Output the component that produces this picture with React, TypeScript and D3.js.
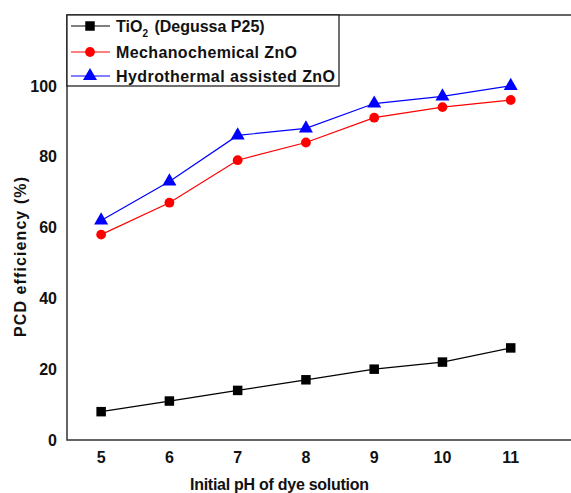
import { useEffect, useRef } from "react";
import * as d3 from "d3";

// pH values and PCD efficiencies (%)
const phValues = [5, 6, 7, 8, 9, 10, 11];
const tio2 = [8, 11, 14, 17, 20, 22, 26];
const mechanoZnO = [58, 67, 79, 84, 91, 94, 96];
const hydroZnO = [62, 73, 86, 88, 95, 97, 100];
const yTicks = [0, 20, 40, 60, 80, 100];

const series = [
  { name: "TiO", sub: "2", rest: " (Degussa P25)", values: tio2, color: "#000000", symbol: d3.symbolSquare, size: 90, len: 152 },
  { name: "Mechanochemical ZnO", sub: "", rest: "", values: mechanoZnO, color: "#ff0000", symbol: d3.symbolCircle, size: 75, len: 181 },
  { name: "Hydrothermal assisted ZnO", sub: "", rest: "", values: hydroZnO, color: "#0000ff", symbol: d3.symbolTriangle, size: 85, len: 219 },
];

const App = () => {
  const ref = useRef<SVGSVGElement>(null);

  useEffect(() => {
    if (!ref.current) return;
    const svg = d3.select(ref.current);
    svg.selectAll("*").remove();

    const width = 571;
    const margin = { top: 15, left: 67, bottom: 440 };
    const font = "'Liberation Sans', Arial, sans-serif";

    const x = d3.scaleLinear().domain([4.5, 12]).range([margin.left, 579]);
    const y = d3.scaleLinear().domain([0, 120]).range([margin.bottom, margin.top]);

    // frame: left, bottom, top (right side is cropped)
    svg.append("path")
      .attr("d", `M${width},${y(120)}H${x(4.5)}V${y(0)}H${width}`)
      .attr("fill", "none")
      .attr("stroke", "#333")
      .attr("stroke-width", 1.5);

    // tick labels
    svg.append("g").selectAll("text")
      .data(yTicks)
      .enter().append("text")
      .attr("x", 57)
      .attr("y", d => y(d))
      .attr("dy", "0.36em")
      .attr("text-anchor", "end")
      .style("font", `bold 16px ${font}`)
      .attr("fill", "#111")
      .text(d => d);

    svg.append("g").selectAll("text")
      .data(phValues)
      .enter().append("text")
      .attr("x", d => x(d))
      .attr("y", 463)
      .attr("text-anchor", "middle")
      .style("font", `bold 16px ${font}`)
      .attr("fill", "#111")
      .text(d => d);

    // axis titles
    svg.append("text")
      .attr("x", 190)
      .attr("y", 490)
      .attr("textLength", 179)
      .style("font", `bold 16px ${font}`)
      .attr("fill", "#111")
      .text("Initial pH of dye solution");

    svg.append("text")
      .attr("transform", "translate(26, 337) rotate(-90)")
      .attr("textLength", 160)
      .style("font", `bold 16px ${font}`)
      .attr("fill", "#111")
      .text("PCD efficiency (%)");

    const line = d3.line<number>()
      .x((_, i) => x(phValues[i]))
      .y(d => y(d));

    series.forEach(s => {
      svg.append("path")
        .datum(s.values)
        .attr("d", line)
        .attr("fill", "none")
        .attr("stroke", s.color)
        .attr("stroke-width", 1.2);

      svg.append("g").selectAll("path")
        .data(s.values)
        .enter().append("path")
        .attr("transform", (d, i) => `translate(${x(phValues[i])}, ${y(d)})`)
        .attr("d", d3.symbol().type(s.symbol).size(s.size))
        .attr("fill", s.color);
    });

    // legend
    const legend = svg.append("g");
    legend.append("rect")
      .attr("x", 67)
      .attr("y", y(120))
      .attr("width", 272)
      .attr("height", 71)
      .attr("fill", "white")
      .attr("stroke", "#111")
      .attr("stroke-width", 1.2);

    const rows = [26, 52, 76];
    series.forEach((s, i) => {
      const g = legend.append("g").attr("transform", `translate(0, ${rows[i]})`);
      g.append("line")
        .attr("x1", 71).attr("x2", 110)
        .attr("stroke", s.color).attr("stroke-width", 1.2);
      g.append("path")
        .attr("transform", "translate(90, 0)")
        .attr("d", d3.symbol().type(s.symbol).size(s.size))
        .attr("fill", s.color);
      const t = g.append("text")
        .attr("x", 116)
        .attr("dy", "0.36em")
        .style("font", `bold 16px ${font}`)
        .attr("fill", "#111");
      if (s.sub) {
        t.append("tspan").text(s.name);
        t.append("tspan").attr("dy", 5).style("font-size", "10px").text(s.sub);
        t.append("tspan").attr("dy", -5).attr("dx", 2).text(s.rest);
      } else {
        t.attr("textLength", s.len).text(s.name);
      }
    });
  }, []);

  return (
    <svg
      ref={ref}
      width={571}
      height={493}
      style={{ position: "absolute", left: 0, top: 0, background: "white" }}
    />
  );
};

export default App;
